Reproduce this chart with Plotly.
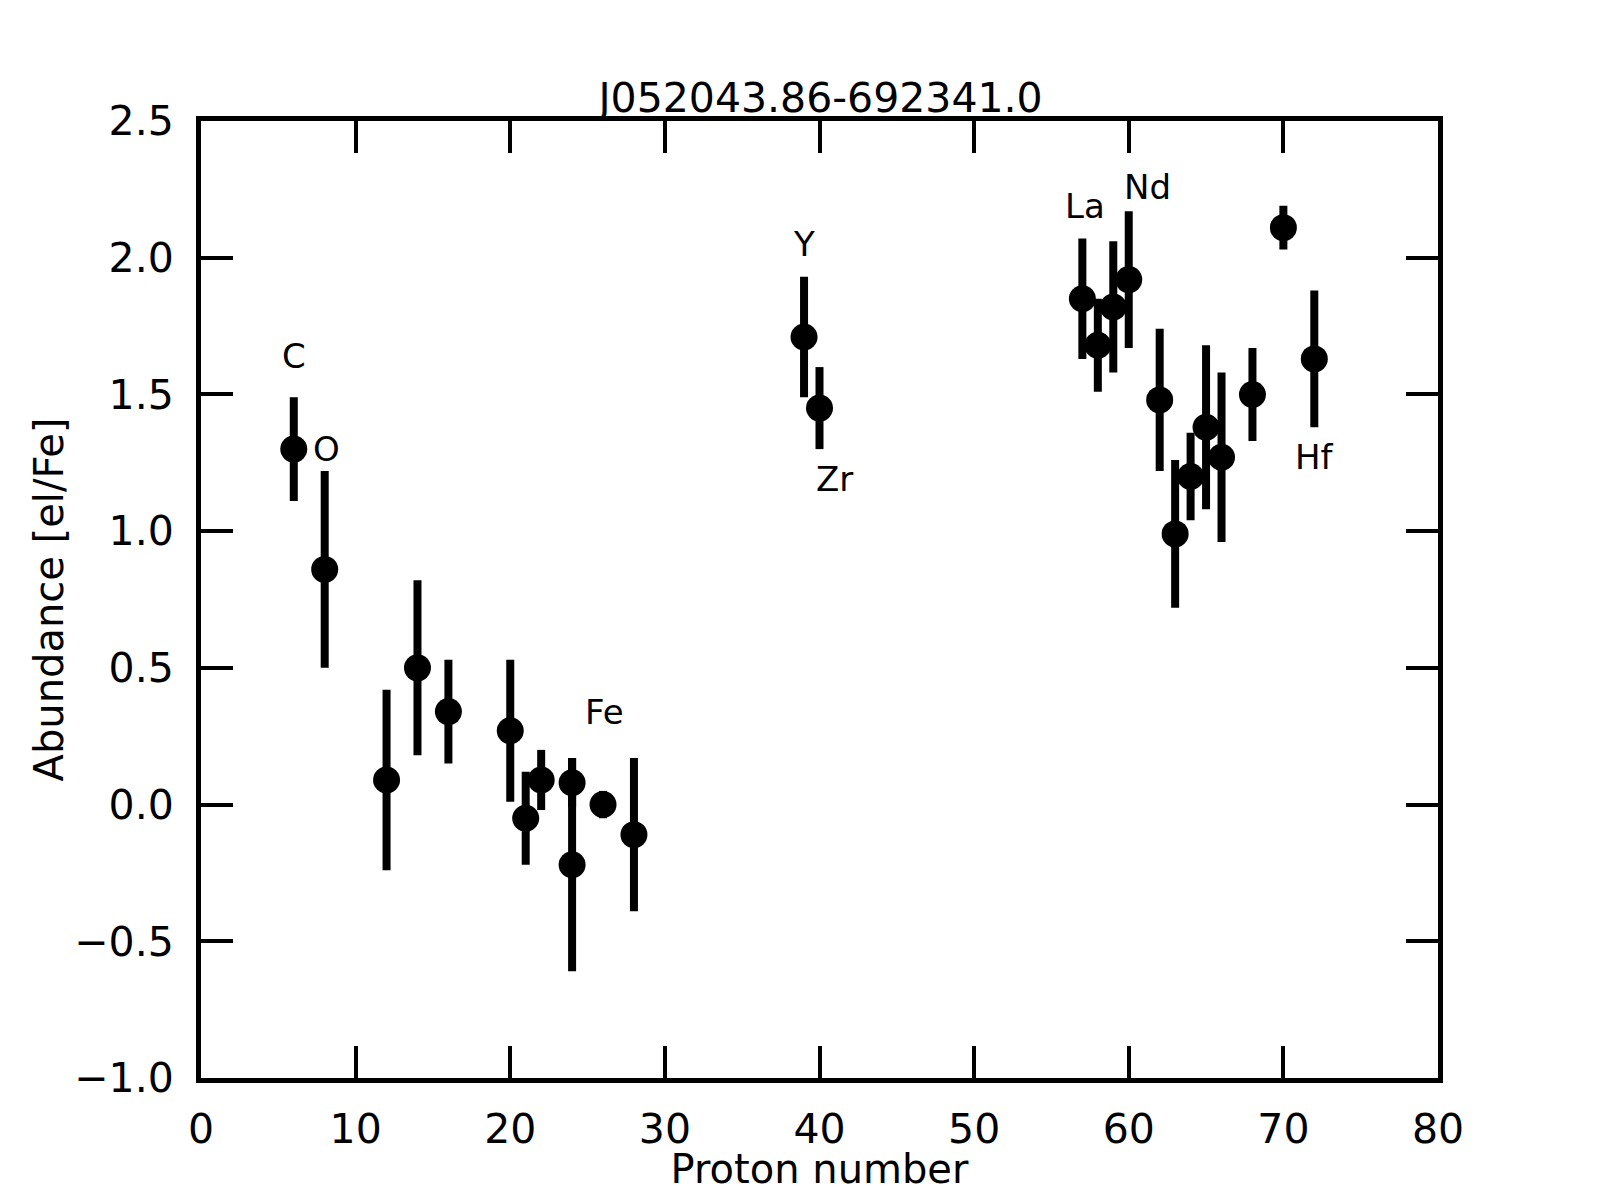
import plotly.graph_objects as go

# proton number, abundance [el/Fe], error
proton_number = [6, 8, 12, 14, 16, 20, 21, 22, 24, 24, 26, 28,
                 39, 40,
                 57, 58, 59, 60, 62, 63, 64, 65, 66, 68, 70, 72]
abundance = [1.30, 0.86, 0.09, 0.50, 0.34, 0.27, -0.05, 0.09, 0.08, -0.22, 0.00, -0.11,
             1.71, 1.45,
             1.85, 1.68, 1.82, 1.92, 1.48, 0.99, 1.20, 1.38, 1.27, 1.50, 2.11, 1.63]
abund_err = [0.19, 0.36, 0.33, 0.32, 0.19, 0.26, 0.17, 0.11, 0.09, 0.39, 0.05, 0.28,
             0.22, 0.15,
             0.22, 0.17, 0.24, 0.25, 0.26, 0.27, 0.16, 0.30, 0.31, 0.17, 0.08, 0.25]

# element labels drawn on the plot (data coordinates)
label_text = ["C", "O", "Fe", "Y", "Zr", "La", "Nd", "Hf"]
label_x = [6.0, 8.1, 26.1, 39.0, 41.0, 57.2, 61.2, 72.0]
label_y = [1.64, 1.30, 0.34, 2.05, 1.19, 2.19, 2.26, 1.27]

xticks = [0, 10, 20, 30, 40, 50, 60, 70, 80]
yticks = [-1.0, -0.5, 0.0, 0.5, 1.0, 1.5, 2.0, 2.5]
ytick_text = [f"{v:.1f}".replace("-", "\u2212") for v in yticks]

title = "J052043.86-692341.0"
font = "DejaVu Sans"

fig = go.Figure()
fig.add_trace(go.Scatter(
    x=proton_number, y=abundance, mode="markers",
    marker=dict(color="black", size=27),
    error_y=dict(type="data", array=abund_err, visible=True,
                 color="black", thickness=8, width=0),
    showlegend=False,
))

for t, x, y in zip(label_text, label_x, label_y):
    fig.add_annotation(x=x, y=y, text=t, showarrow=False,
                       font=dict(family=font, size=34, color="black"))

axis_style = dict(
    showline=True, linecolor="black", linewidth=5, mirror="ticks",
    ticks="inside", ticklen=32, tickwidth=4, tickcolor="black",
    showgrid=False, zeroline=False,
    tickfont=dict(family=font, size=41, color="black"),
)

# page body has an 8px margin, so the figure is a bit smaller than the window
fig.update_layout(
    width=1584, height=1184,
    paper_bgcolor="white", plot_bgcolor="white",
    margin=dict(l=193, r=154, t=113, b=114, autoexpand=False),
    title=dict(text=title, x=0.513, xanchor="center", y=0.9125, yanchor="bottom",
               font=dict(family=font, size=41, color="black")),
    xaxis=dict(range=[0, 80], tickvals=xticks, ticklabelstandoff=11,
               title=dict(text="Proton number", standoff=0,
                          font=dict(family=font, size=40, color="black")),
               **axis_style),
    yaxis=dict(range=[-1.0, 2.5], tickvals=yticks, ticktext=ytick_text,
               ticklabelstandoff=14,
               title=dict(text="Abundance [el/Fe]", standoff=0,
                          font=dict(family=font, size=40, color="black")),
               **axis_style),
)

fig.write_html("out.html")
